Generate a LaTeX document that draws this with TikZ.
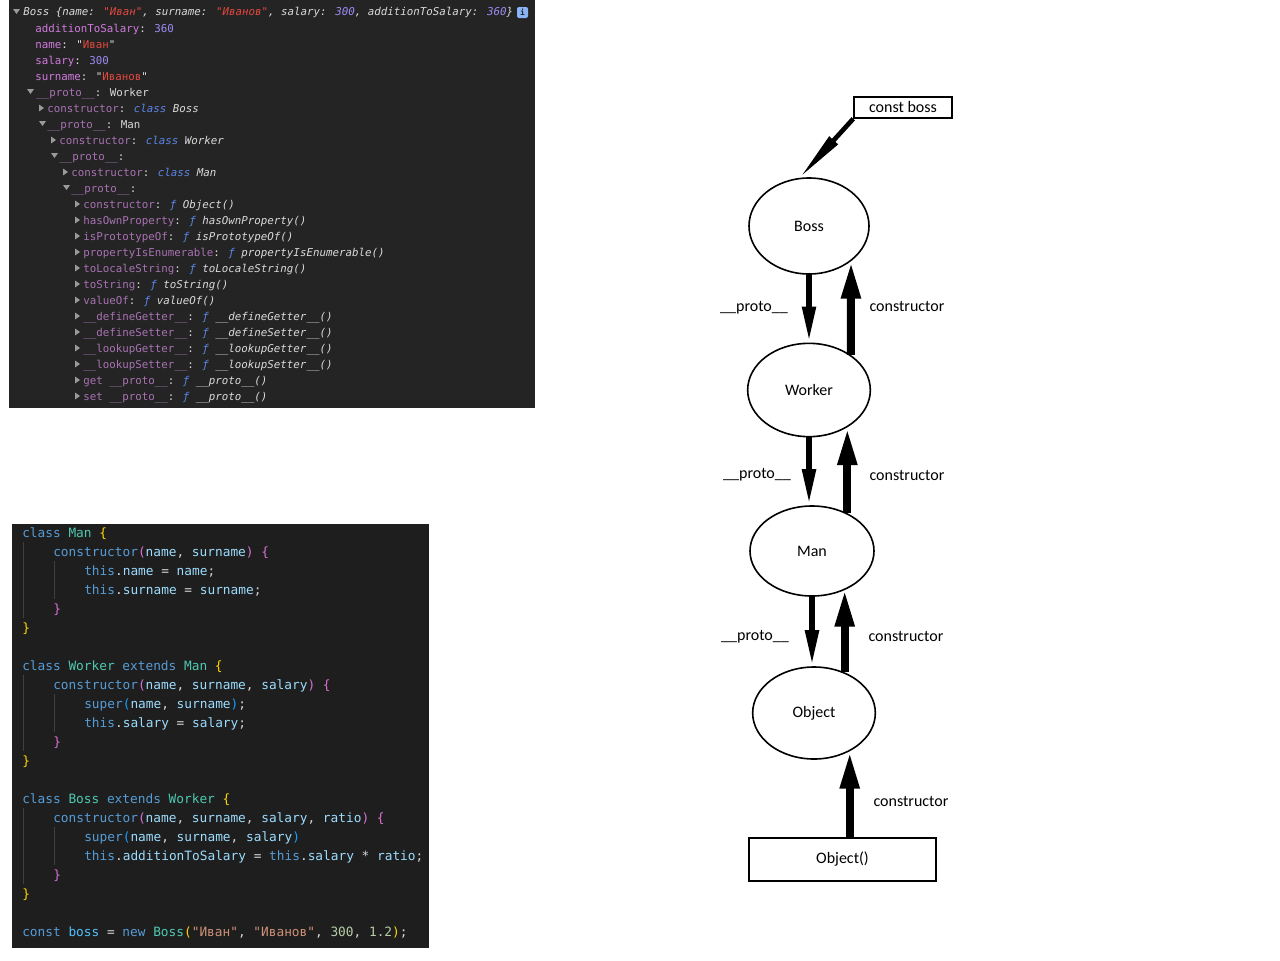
\documentclass[tikz,border=0pt]{standalone}
\usepackage{fontspec}
\setmainfont{Carlito}
\newfontfamily\consolefont{DejaVu Sans Mono}
\usetikzlibrary{shapes.geometric,arrows.meta,calc}

% Console colours
\definecolor{consolebg}{HTML}{242424}
\definecolor{contxt}{HTML}{DADADA}
\definecolor{keyown}{HTML}{D27BDF}
\definecolor{keydim}{HTML}{A872B3}
\definecolor{constr}{HTML}{E5483F}
\definecolor{connum}{HTML}{9D8CF5}
\definecolor{conblue}{HTML}{5C85E8}
\definecolor{contri}{HTML}{9A9A9A}
\definecolor{infoblue}{HTML}{8AB4F8}
% Editor colours
\definecolor{codebg}{HTML}{1E1E1E}
\definecolor{codetxt}{HTML}{D4D4D4}
\definecolor{codekw}{HTML}{569CD6}
\definecolor{codety}{HTML}{4EC9B0}
\definecolor{codevar}{HTML}{9CDCFE}
\definecolor{codeconst}{HTML}{4FC1FF}
\definecolor{codegold}{HTML}{FFD700}
\definecolor{codeorchid}{HTML}{DA70D6}
\definecolor{codebrblue}{HTML}{179FFF}
\definecolor{codestr}{HTML}{CE9178}
\definecolor{codenum}{HTML}{B5CEA8}
\definecolor{codeguide}{HTML}{404040}

\newcommand\ckey[1]{\textcolor{keyown}{#1}}
\newcommand\cdim[1]{\textcolor{keydim}{#1}}
\newcommand\cstr[1]{\textcolor{constr}{#1}}
\newcommand\cnum[1]{\textcolor{connum}{#1}}
\newcommand\cblue[1]{\textcolor{conblue}{#1}}
\newcommand\jkw[1]{\textcolor{codekw}{#1}}
\newcommand\jty[1]{\textcolor{codety}{#1}}
\newcommand\jvar[1]{\textcolor{codevar}{#1}}
\newcommand\jconst[1]{\textcolor{codeconst}{#1}}
\newcommand\jba[1]{\textcolor{codegold}{#1}}
\newcommand\jbb[1]{\textcolor{codeorchid}{#1}}
\newcommand\jbc[1]{\textcolor{codebrblue}{#1}}
\newcommand\jstr[1]{\textcolor{codestr}{#1}}
\newcommand\jnum[1]{\textcolor{codenum}{#1}}

\tikzset{
  con/.style={font=\consolefont\fontsize{8.1}{10}\selectfont, text=contxt, anchor=base west, inner sep=0pt},
  code/.style={font=\consolefont\fontsize{9.6}{12}\selectfont, text=codetxt, anchor=base west, inner sep=0pt},
  cls/.style={ellipse, draw, line width=1.2pt, inner sep=0pt, font=\fontsize{12}{14}\selectfont},
  box/.style={rectangle, draw, line width=1.2pt, inner sep=0pt, font=\fontsize{12}{14}\selectfont},
  lbl/.style={anchor=base, inner sep=0pt, font=\fontsize{12}{14}\selectfont},
  proto/.style={line width=4.5pt, -{Triangle[length=27pt,width=9.5pt]}},
  ctor/.style={line width=6pt, -{Triangle[length=28pt,width=13.5pt]}},
  ptr/.style={line width=3.5pt, -{Triangle[length=38pt,width=8pt]}},
  guide/.style={codeguide, line width=0.6pt}
}

\begin{document}
\begin{tikzpicture}[x=0.75pt, y=-0.75pt]
	\useasboundingbox (0,0) rectangle (1280,960);
	
	% Console panel
	\fill[consolebg] (9,0) rectangle (535,408);
	\foreach \x/\y in {13/12, 27/92, 39/124, 51/156, 63/188}
	\fill[contri] (\x,\y-3) -- ++(7,0) -- ++(-3.5,5) -- cycle;
	\foreach \x/\y in {39/108, 51/140, 63/172}
	\fill[contri] (\x,\y-3.5) -- ++(0,7) -- ++(5,-3.5) -- cycle;
	\foreach \i in {13,...,25}
	\fill[contri] (75,16*\i-7.5) -- ++(0,7) -- ++(5,-3.5) -- cycle;
	
	\node[con] (l1) at (23,16) {\itshape Boss \{name: \cstr{"Иван"}, surname: \cstr{"Иванов"}, salary: \cnum{300}, additionToSalary: \cnum{360}\}};
	\node[fill=infoblue, rounded corners=1.5pt, minimum size=8.25pt, inner sep=0pt, text=consolebg,
	      font=\consolefont\bfseries\fontsize{6}{6}\selectfont] (info) at (522.5,12.5) {i};
	\node[con] (l2) at (35,32) {\ckey{additionToSalary}: \cnum{360}};
	\node[con] (l3) at (35,48) {\ckey{name}: "\cstr{Иван}"};
	\node[con] (l4) at (35,64) {\ckey{salary}: \cnum{300}};
	\node[con] (l5) at (35,80) {\ckey{surname}: "\cstr{Иванов}"};
	\node[con] (l6) at (36,96) {\cdim{\_\_proto\_\_}: Worker};
	\node[con] (l7) at (47,112) {\cdim{constructor}: \cblue{\itshape class} {\itshape Boss}};
	\node[con] (l8) at (47,128) {\cdim{\_\_proto\_\_}: Man};
	\node[con] (l9) at (59,144) {\cdim{constructor}: \cblue{\itshape class} {\itshape Worker}};
	\node[con] (l10) at (59,160) {\cdim{\_\_proto\_\_}:};
	\node[con] (l11) at (71,176) {\cdim{constructor}: \cblue{\itshape class} {\itshape Man}};
	\node[con] (l12) at (71,192) {\cdim{\_\_proto\_\_}:};
	\foreach \i/\k/\f in {13/constructor/Object, 14/hasOwnProperty/hasOwnProperty,
	    15/isPrototypeOf/isPrototypeOf, 16/propertyIsEnumerable/propertyIsEnumerable,
	    17/toLocaleString/toLocaleString, 18/toString/toString, 19/valueOf/valueOf,
	    20/\_\_defineGetter\_\_/\_\_defineGetter\_\_, 21/\_\_defineSetter\_\_/\_\_defineSetter\_\_,
	    22/\_\_lookupGetter\_\_/\_\_lookupGetter\_\_, 23/\_\_lookupSetter\_\_/\_\_lookupSetter\_\_,
	    24/get \_\_proto\_\_/\_\_proto\_\_, 25/set \_\_proto\_\_/\_\_proto\_\_}
	\node[con] (l\i) at (83,16*\i) {\cdim{\k}: \cblue{\itshape ƒ} {\itshape \f()}};
	
	% Editor panel
	\fill[codebg] (12,524) rectangle (429,948);
	\foreach \o in {0,133,266} {
		\draw[guide] (23.5,542+\o) -- (23.5,618+\o);
		\draw[guide] (54.5,561+\o) -- (54.5,599+\o);
	}
	\node[code] (c0) at (22,537) {\jkw{class} \jty{Man} \jba{\{}};
	\node[code] (c1) at (53,556) {\jkw{constructor}\jbb{(}\jvar{name}, \jvar{surname}\jbb{)} \jbb{\{}};
	\node[code] (c2) at (84,575) {\jkw{this}.\jvar{name} = \jvar{name};};
	\node[code] (c3) at (84,594) {\jkw{this}.\jvar{surname} = \jvar{surname};};
	\node[code] (c4) at (53,613) {\jbb{\}}};
	\node[code] (c5) at (22,632) {\jba{\}}};
	\node[code] (c7) at (22,670) {\jkw{class} \jty{Worker} \jkw{extends} \jty{Man} \jba{\{}};
	\node[code] (c8) at (53,689) {\jkw{constructor}\jbb{(}\jvar{name}, \jvar{surname}, \jvar{salary}\jbb{)} \jbb{\{}};
	\node[code] (c9) at (84,708) {\jkw{super}\jbc{(}\jvar{name}, \jvar{surname}\jbc{)};};
	\node[code] (c10) at (84,727) {\jkw{this}.\jvar{salary} = \jvar{salary};};
	\node[code] (c11) at (53,746) {\jbb{\}}};
	\node[code] (c12) at (22,765) {\jba{\}}};
	\node[code] (c14) at (22,803) {\jkw{class} \jty{Boss} \jkw{extends} \jty{Worker} \jba{\{}};
	\node[code] (c15) at (53,822) {\jkw{constructor}\jbb{(}\jvar{name}, \jvar{surname}, \jvar{salary}, \jvar{ratio}\jbb{)} \jbb{\{}};
	\node[code] (c16) at (84,841) {\jkw{super}\jbc{(}\jvar{name}, \jvar{surname}, \jvar{salary}\jbc{)}};
	\node[code] (c17) at (84,860) {\jkw{this}.\jvar{additionToSalary} = \jkw{this}.\jvar{salary} * \jvar{ratio};};
	\node[code] (c18) at (53,879) {\jbb{\}}};
	\node[code] (c19) at (22,898) {\jba{\}}};
	\node[code] (c21) at (22,936) {\jkw{const} \jconst{boss} = \jkw{new} \jty{Boss}\jba{(}\jstr{"Иван"}, \jstr{"Иванов"}, \jnum{300}, \jnum{1.2}\jba{)};};
	
	% Prototype chain
	\node[box, minimum width=73.5pt, minimum height=15.75pt] (bossvar) at (903,107.5) {const boss};
	\node[cls, minimum width=90pt, minimum height=72pt] (boss) at (809,226) {Boss};
	\node[cls, minimum width=92pt, minimum height=70pt] (worker) at (809,390) {Worker};
	\node[cls, minimum width=93pt, minimum height=67.5pt] (man) at (812,551) {Man};
	\node[cls, minimum width=92pt, minimum height=69pt] (object) at (814,713) {Object};
	\node[box, minimum width=140pt, minimum height=32pt] (objfn) at (842.5,859.5) {Object()};
	
	% Links
	\draw[ptr] (bossvar.south west) -- (boss.101);
	\draw[proto] (boss) -- (worker);
	\draw[proto] (worker.south) -- (worker.south |- man.north);
	\draw[proto] (man.south) -- (man.south |- object.north);
	\draw[ctor] (worker.40) -- (boss.-40);
	\draw[ctor] (man.47) -- (man.47 |- worker.-45);
	\draw[ctor] (object.53) -- (object.53 |- man.-48);
	\draw[ctor] (object.-47 |- objfn.north) -- (object.-47);
	
	% Labels
	\node[lbl] (pl1) at (754,311) {\_\_proto\_\_};
	\node[lbl] (pl2) at (757,478) {\_\_proto\_\_};
	\node[lbl] (pl3) at (755,640) {\_\_proto\_\_};
	\node[lbl] (cl1) at (907,311) {constructor};
	\node[lbl] (cl2) at (907,480) {constructor};
	\node[lbl] (cl3) at (906,641) {constructor};
	\node[lbl] (cl4) at (911,806) {constructor};
\end{tikzpicture}
\end{document}
